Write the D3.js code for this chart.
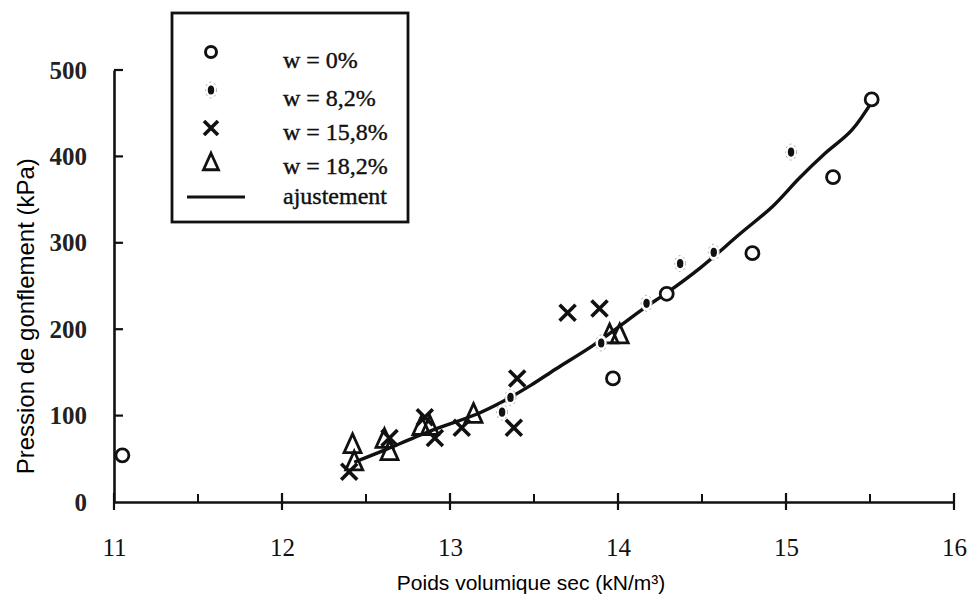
<!DOCTYPE html>
<html>
<head>
<meta charset="utf-8">
<script src="https://cdn.jsdelivr.net/npm/d3@7"></script>
<style>
  body { margin: 0; background: #fff; }
  svg { display: block; }
</style>
</head>
<body>
<script>
// tick labels
const xTicks = [11, 12, 13, 14, 15, 16];
const xMinor = [11.5, 12.5, 13.5, 14.5, 15.5];
const yTicks = [0, 100, 200, 300, 400, 500];

// w = 0 %
const w0X = [11.05, 13.97, 14.29, 14.80, 15.28, 15.51];
const w0Y = [54, 143, 241, 288, 376, 466];

// w = 8,2 %
const w82X = [13.31, 13.36, 13.90, 14.17, 14.37, 14.57, 15.03];
const w82Y = [104, 121, 184, 230, 276, 289, 405];

// w = 15,8 %
const w158X = [12.40, 12.64, 12.85, 12.91, 13.07, 13.38, 13.40, 13.70, 13.89];
const w158Y = [35, 74, 98, 74, 86, 86, 143, 219, 224];

// w = 18,2 %
const w182X = [12.42, 12.43, 12.61, 12.64, 12.83, 12.88, 13.14, 13.95, 14.01];
const w182Y = [66, 46, 72, 58, 87, 87, 101, 193, 193];

// ajustement
const fitX = [12.43, 12.61, 12.78, 12.92, 13.15, 13.32, 13.48, 13.63, 13.85, 14.02, 14.16, 14.29, 14.49, 14.73, 14.92, 15.08, 15.23, 15.39, 15.52];
const fitY = [46, 60, 74, 85, 101, 117, 135, 154, 181, 205, 225, 242, 271, 311, 342, 375, 403, 430, 466];

const legendLabels = ['w = 0%', 'w = 8,2%', 'w = 15,8%', 'w = 18,2%', 'ajustement'];

const W = 968, H = 598;
const serif = '"Liberation Serif", "Times New Roman", serif';
const sans = '"Liberation Sans", Arial, sans-serif';

const zip = (xs, ys) => xs.map((v, i) => [v, ys[i]]);

const svg = d3.select('body').append('svg')
  .attr('width', W)
  .attr('height', H);

svg.append('rect').attr('width', W).attr('height', H).attr('fill', '#fff');

const x = d3.scaleLinear().domain([11, 16]).range([114, 954]);
const y = d3.scaleLinear().domain([0, 500]).range([502, 70]);

// x axis
const gx = svg.append('g')
  .attr('transform', `translate(0,${y(0)})`)
  .call(d3.axisBottom(x).tickValues(xTicks).tickSize(0).tickPadding(36).tickFormat(d3.format('d')));
gx.select('.domain').attr('stroke', '#111').attr('stroke-width', 2.6);
gx.selectAll('text').attr('font-family', serif).attr('font-size', 25).attr('fill', '#111');

gx.selectAll('.major')
  .data(xTicks)
  .join('line')
  .attr('x1', d => x(d)).attr('x2', d => x(d))
  .attr('y1', -9).attr('y2', 8)
  .attr('stroke', '#111').attr('stroke-width', 2.2);

gx.selectAll('.minor')
  .data(xMinor)
  .join('line')
  .attr('x1', d => x(d)).attr('x2', d => x(d))
  .attr('y1', -8).attr('y2', 0)
  .attr('stroke', '#111').attr('stroke-width', 2);

// y axis
const gy = svg.append('g')
  .attr('transform', `translate(${x(11)},0)`)
  .call(d3.axisLeft(y).tickValues(yTicks).tickSize(0).tickPadding(27));
gy.select('.domain').attr('stroke', '#111').attr('stroke-width', 2.6);
gy.selectAll('text').attr('font-family', serif).attr('font-size', 25)
  .attr('font-weight', 'bold').attr('fill', '#222');

gy.selectAll('.ytick')
  .data(yTicks.filter(d => d > 0))
  .join('line')
  .attr('x1', 0).attr('x2', 9)
  .attr('y1', d => y(d)).attr('y2', d => y(d))
  .attr('stroke', '#111').attr('stroke-width', 2.2);

// axis titles
svg.append('text')
  .attr('x', (x(11) + x(16)) / 2 - 3)
  .attr('y', 590)
  .attr('text-anchor', 'middle')
  .attr('font-family', sans).attr('font-size', 21).attr('fill', '#000')
  .text('Poids volumique sec (kN/m³)');

svg.append('text')
  .attr('transform', `translate(34,${y(215)}) rotate(-90)`)
  .attr('text-anchor', 'middle')
  .attr('font-family', sans).attr('font-size', 24).attr('fill', '#000')
  .text('Pression de gonflement (kPa)');

// fitted curve
const line = d3.line()
  .x(d => x(d[0]))
  .y(d => y(d[1]))
  .curve(d3.curveCatmullRom.alpha(0.5));

svg.append('path')
  .datum(zip(fitX, fitY))
  .attr('d', line)
  .attr('fill', 'none')
  .attr('stroke', '#111')
  .attr('stroke-width', 3.4);

// markers
function drawCircle(g, cx, cy, r, sw) {
  g.append('circle').attr('cx', cx).attr('cy', cy).attr('r', r)
    .attr('fill', '#fff').attr('stroke', '#111').attr('stroke-width', sw);
}
function drawDot(g, cx, cy) {
  g.append('ellipse').attr('cx', cx).attr('cy', cy).attr('rx', 5.5).attr('ry', 8)
    .attr('fill', '#fff').attr('stroke', '#aaa').attr('stroke-width', 1)
    .attr('stroke-dasharray', '2,3');
  g.append('ellipse').attr('cx', cx).attr('cy', cy).attr('rx', 3.2).attr('ry', 4.6)
    .attr('fill', '#111');
}
function drawCross(g, cx, cy, s) {
  g.append('path')
    .attr('d', `M${cx - s},${cy - s}L${cx + s},${cy + s}M${cx - s},${cy + s}L${cx + s},${cy - s}`)
    .attr('stroke', '#111').attr('stroke-width', 3.6).attr('fill', 'none');
}
function drawTriangle(g, cx, cy, s) {
  g.append('path')
    .attr('d', `M${cx},${cy - s * 1.3}L${cx + s},${cy + s * 0.9}L${cx - s},${cy + s * 0.9}Z`)
    .attr('stroke', '#111').attr('stroke-width', 2.8).attr('fill', 'none')
    .attr('stroke-linejoin', 'miter');
}

const marks = svg.append('g');
zip(w182X, w182Y).forEach(d => drawTriangle(marks, x(d[0]), y(d[1]), 8.5));
zip(w158X, w158Y).forEach(d => drawCross(marks, x(d[0]), y(d[1]), 8));
zip(w82X, w82Y).forEach(d => drawDot(marks, x(d[0]), y(d[1])));
zip(w0X, w0Y).forEach(d => drawCircle(marks, x(d[0]), y(d[1]), 6.5, 2.8));

// legend
const lg = svg.append('g');
lg.append('rect')
  .attr('x', 172).attr('y', 13).attr('width', 236).attr('height', 209)
  .attr('fill', '#fff').attr('stroke', '#111').attr('stroke-width', 2.8);

const symY = [52, 90, 128, 163, 197];
const txtY = [68, 106, 140, 174, 204];
drawCircle(lg, 211, symY[0], 5.5, 3);
drawDot(lg, 211, symY[1]);
drawCross(lg, 211, symY[2], 7);
drawTriangle(lg, 211, symY[3], 7.5);
lg.append('line').attr('x1', 187).attr('x2', 245).attr('y1', symY[4]).attr('y2', symY[4])
  .attr('stroke', '#111').attr('stroke-width', 2.8);

lg.selectAll('.lt')
  .data(legendLabels)
  .join('text')
  .attr('x', 283)
  .attr('y', (d, i) => txtY[i])
  .attr('font-family', serif).attr('font-size', 24).attr('fill', '#111')
  .attr('stroke', '#111').attr('stroke-width', 0.4)
  .text(d => d);
</script>
</body>
</html>
